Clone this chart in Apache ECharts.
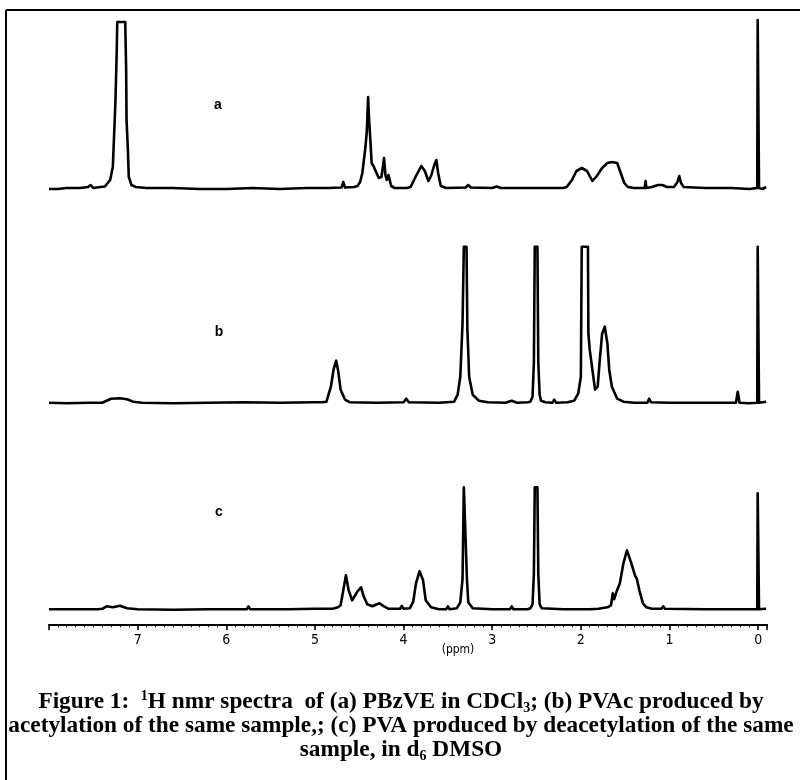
<!DOCTYPE html>
<html>
<head>
<meta charset="utf-8">
<script src="https://cdn.jsdelivr.net/npm/echarts@6/dist/echarts.min.js"></script>
<style>
html,body{margin:0;padding:0;background:#fff;}
#chart{width:800px;height:780px;}
</style>
</head>
<body>
<div id="chart"></div>
<script>
// Chemical shift (ppm) vs. signal intensity (arbitrary units) for each spectrum
const specA = [
[8.00,-1],[7.90,-1],[7.80,0],[7.65,0],[7.56,1],[7.53,3],[7.50,0],[7.42,1],[7.37,1.5],[7.31,8],[7.28,21],[7.26,65],[7.25,88],[7.235,140],[7.23,166],[7.14,166],[7.13,120],[7.125,68],[7.11,38],[7.10,11],[7.07,3],[7.02,1],[6.90,0],[6.60,0],[6.30,-1],[6.00,-1],[5.70,0],[5.40,-1],[5.10,0],[4.85,0],[4.70,0.5],[4.68,6],[4.66,0.5],[4.56,1],[4.52,2],[4.49,6],[4.465,15],[4.43,41],[4.415,56],[4.40,91],[4.39,70],[4.38,56],[4.36,25],[4.34,22],[4.32,21],[4.28,10],[4.25,11],[4.235,20],[4.22,30],[4.205,13],[4.19,8],[4.17,13],[4.14,2],[4.10,0],[3.96,0],[3.92,1],[3.86,12],[3.80,22],[3.76,17],[3.72,7],[3.69,12],[3.65,24],[3.63,28],[3.61,15],[3.58,2],[3.52,0],[3.30,0.5],[3.27,3],[3.24,0.5],[3.00,0],[2.95,1.5],[2.90,0],[2.50,0],[2.20,0],[2.16,1],[2.10,8],[2.05,17],[1.99,20],[1.93,17],[1.87,7],[1.82,12],[1.76,20],[1.70,25],[1.65,26],[1.59,25],[1.55,15],[1.51,5],[1.47,1],[1.40,0],[1.28,0],[1.27,7],[1.26,0],[1.20,1],[1.13,3],[1.08,3],[1.03,1],[0.95,1],[0.91,6],[0.89,12],[0.87,5],[0.84,1],[0.60,0],[0.30,0],[0.10,-1],[0.01,0],[0.005,168],[-0.005,168],[-0.01,0],[-0.05,-1],[-0.09,1]
];
const specB = [
[8.00,0],[7.80,-0.5],[7.55,0],[7.40,0],[7.35,2],[7.30,4],[7.20,4.5],[7.12,3.5],[7.05,1],[6.95,0],[6.60,-0.5],[6.20,0],[5.80,0.5],[5.40,0],[5.00,0.5],[4.92,0.5],[4.87,1],[4.82,16],[4.79,33],[4.76,42],[4.74,33],[4.71,13],[4.66,3],[4.61,0.5],[4.30,0],[4.00,0.5],[3.97,4],[3.94,0.5],[3.60,0],[3.43,1],[3.39,8],[3.36,26],[3.335,79],[3.32,156],[3.29,156],[3.28,73],[3.26,26],[3.22,8],[3.15,2],[3.05,0.5],[2.85,0],[2.78,2],[2.72,0],[2.60,0.5],[2.57,1],[2.545,6],[2.53,40],[2.52,156],[2.49,156],[2.48,40],[2.465,8],[2.45,2],[2.40,0.5],[2.32,0],[2.30,3],[2.28,0],[2.15,0.5],[2.075,2],[2.03,9],[2.00,26],[1.99,156],[1.92,156],[1.915,69],[1.90,53],[1.87,33],[1.84,13],[1.81,16],[1.79,39],[1.76,69],[1.73,76],[1.70,59],[1.68,33],[1.65,16],[1.59,4],[1.52,1],[1.40,0],[1.25,0],[1.23,4],[1.21,0.5],[1.00,0],[0.60,0],[0.25,0],[0.23,11],[0.21,0],[0.10,-0.5],[0.01,0],[0.005,156],[-0.005,156],[-0.01,0],[-0.09,1]
];
const specC = [
[8.00,0],[7.70,0],[7.45,0],[7.40,0.5],[7.35,3],[7.33,4.3],[7.28,2],[7.20,3.5],[7.18,4],[7.12,1],[7.00,0],[6.60,-0.5],[6.20,0],[5.77,0],[5.75,3],[5.73,0],[5.30,0],[5.00,0.5],[4.80,0.5],[4.74,2],[4.71,4],[4.68,19],[4.65,34],[4.62,19],[4.58,9],[4.56,10],[4.52,18],[4.48,22],[4.45,13],[4.41,5],[4.35,3],[4.30,5],[4.27,6],[4.22,3],[4.17,0.5],[4.04,0.5],[4.02,3.5],[4.00,0.5],[3.93,1],[3.89,8],[3.86,26],[3.82,38],[3.78,29],[3.75,9],[3.69,2],[3.60,0],[3.52,0],[3.50,3],[3.48,0],[3.40,1],[3.36,7],[3.335,30],[3.32,122],[3.30,122],[3.285,30],[3.27,7],[3.22,1],[3.00,0],[2.80,0],[2.78,3],[2.76,0],[2.60,0],[2.57,1],[2.545,5],[2.53,35],[2.52,122],[2.49,122],[2.48,35],[2.465,5],[2.44,1],[2.20,0],[1.90,0],[1.80,0.5],[1.70,2],[1.66,4],[1.64,16],[1.625,10],[1.60,17],[1.56,26],[1.52,46],[1.48,59],[1.46,60],[1.43,46],[1.39,34],[1.37,31],[1.34,19],[1.30,6],[1.26,2],[1.20,0.5],[1.09,0.5],[1.07,3],[1.05,0.5],[0.60,0],[0.20,0],[0.01,0],[0.005,116],[-0.005,116],[-0.01,0],[-0.09,0.5]
];
const spectrumLabels = ['a', 'b', 'c'];
const axisMin = -0.1, axisMax = 8.0;
const yMax = [168, 156, 122];
const tickValues = [0, 1, 2, 3, 4, 5, 6, 7];
const axisName = '(ppm)';

const chart = echarts.init(document.getElementById('chart'), null, {renderer: 'canvas'});
const gridTops = [20, 246.7, 487.3];
const yLow = -6;
const grids = gridTops.map((t, i) => ({left: 49, right: 33, top: t, height: yMax[i] - yLow}));
const hiddenX = i => ({type: 'value', gridIndex: i, min: axisMin, max: axisMax, inverse: true, show: false});
const xAxes = [hiddenX(0), hiddenX(1),
  {type: 'value', gridIndex: 2, min: axisMin, max: axisMax, inverse: true, splitNumber: 8, position: 'bottom', offset: 9,
   axisLine: {show: true, onZero: false, lineStyle: {color: '#000', width: 2}},
   axisTick: {show: true, length: 6, lineStyle: {color: '#000', width: 1.5}},
   splitLine: {show: false},
   axisLabel: {show: true, color: '#000', fontSize: 14, margin: 9,
     fontFamily: '"Liberation Sans Narrow","DejaVu Sans Condensed","Arial Narrow",sans-serif',
     formatter: v => tickValues.indexOf(Math.round(v * 1000) / 1000) >= 0 ? String(Math.round(v)) : ''}},
  {type: 'value', gridIndex: 2, min: axisMin, max: axisMax, interval: 0.1, inverse: true, position: 'bottom', offset: 9,
   axisLine: {show: false, onZero: false}, axisLabel: {show: false}, splitLine: {show: false},
   axisTick: {show: true, length: 3, lineStyle: {color: '#000', width: 1}}}
];
const yAxes = yMax.map((m, i) => ({type: 'value', gridIndex: i, min: yLow, max: m, show: false}));
const specs = [specA, specB, specC];
const series = specs.map((d, i) => ({
  type: 'line', xAxisIndex: i, yAxisIndex: i, data: d, showSymbol: false, symbol: 'none',
  lineStyle: {color: '#000', width: 2.6, join: 'round'}, silent: true, clip: false
}));

const captionRich = {
  m: {fontFamily: '"Liberation Serif","Times New Roman",serif', fontWeight: 'bold', fontSize: 23.3, lineHeight: 26, fill: '#000'},
  sup: {fontFamily: '"Liberation Serif","Times New Roman",serif', fontWeight: 'bold', fontSize: 14, lineHeight: 14, verticalAlign: 'top', fill: '#000'},
  sub: {fontFamily: '"Liberation Serif","Times New Roman",serif', fontWeight: 'bold', fontSize: 14, lineHeight: 14, verticalAlign: 'bottom', fill: '#000'}
};
const captionLines = [
  '{m|Figure 1:  }{sup|1}{m|H nmr spectra  of (a) PBzVE in CDCl}{sub|3}{m|; (b) PVAc produced by}',
  '{m|acetylation of the same sample,; (c) PVA produced by deacetylation of the same}',
  '{m|sample, in d}{sub|6}{m| DMSO}'
];
const captionY = [702, 726, 750];
const labelPos = [[218, 105], [219, 332], [219, 512]];

const graphic = [
  {type: 'line', shape: {x1: 6, y1: 10, x2: 6, y2: 780}, style: {stroke: '#000', lineWidth: 2}},
  {type: 'line', shape: {x1: 6, y1: 10, x2: 800, y2: 10}, style: {stroke: '#000', lineWidth: 2}},
  {type: 'text', x: 458, y: 650, style: {text: axisName, fill: '#000', fontSize: 12,
    fontFamily: '"Liberation Sans Narrow","DejaVu Sans Condensed",sans-serif', textAlign: 'center', textVerticalAlign: 'middle'}}
];
spectrumLabels.forEach((s, i) => graphic.push({type: 'text', x: labelPos[i][0], y: labelPos[i][1],
  style: {text: s, fill: '#000', fontSize: 14, fontWeight: 'bold', fontFamily: '"Liberation Sans",Arial,sans-serif',
    textAlign: 'center', textVerticalAlign: 'middle'}}));
captionLines.forEach((t, i) => graphic.push({type: 'text', x: 401, y: captionY[i],
  style: {text: t, rich: captionRich, textAlign: 'center', textVerticalAlign: 'middle'}}));

chart.setOption({
  animation: false,
  backgroundColor: '#fff',
  grid: grids,
  xAxis: xAxes,
  yAxis: yAxes,
  series: series,
  graphic: graphic
});
</script>
</body>
</html>
